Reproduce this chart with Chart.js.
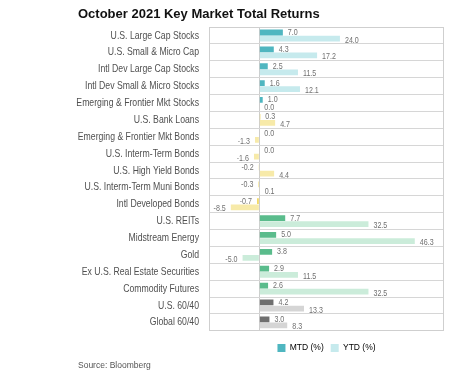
<!DOCTYPE html>
<html>
<head>
<meta charset="utf-8">
<script src="https://cdn.jsdelivr.net/npm/chart.js@4.4.1/dist/chart.umd.min.js"></script>
<style>
  html, body { margin: 0; padding: 0; background: #fff; }
  #wrap { width: 461px; height: 386px; }
</style>
</head>
<body>
<div id="wrap"><canvas id="chart"></canvas></div>
<script>
// data
const categories = [
  'U.S. Large Cap Stocks', 'U.S. Small & Micro Cap', 'Intl Dev Large Cap Stocks',
  'Intl Dev Small & Micro Stocks', 'Emerging & Frontier Mkt Stocks', 'U.S. Bank Loans',
  'Emerging & Frontier Mkt Bonds', 'U.S. Interm-Term Bonds', 'U.S. High Yield Bonds',
  'U.S. Interm-Term Muni Bonds', 'Intl Developed Bonds', 'U.S. REITs', 'Midstream Energy',
  'Gold', 'Ex U.S. Real Estate Securities', 'Commodity Futures', 'U.S. 60/40', 'Global 60/40'
];
const mtd = [7.0, 4.3, 2.5, 1.6, 1.0, 0.3, 0.0, 0.0, -0.2, -0.3, -0.7, 7.7, 5.0, 3.8, 2.9, 2.6, 4.2, 3.0];
const ytd = [24.0, 17.2, 11.5, 12.1, 0.0, 4.7, -1.3, -1.6, 4.4, 0.1, -8.5, 32.5, 46.3, -5.0, 11.5, 32.5, 13.3, 8.3];
// 0 = equities, 1 = fixed income, 2 = real assets, 3 = balanced
const assetClass = [0, 0, 0, 0, 0, 1, 1, 1, 1, 1, 1, 2, 2, 2, 2, 2, 3, 3];
const seriesNames = ['MTD (%)', 'YTD (%)'];

const MTD_COLORS = ['#4fb6c0', '#f2d968', '#5abc8c', '#6f6f6f'];
const YTD_COLORS = ['#c6eaed', '#f7eaa9', '#cbecda', '#d5d5d5'];
const SANS = '"Liberation Sans", Arial, sans-serif';
const SQUEEZE = 0.79; // no narrow font installed, so squeeze the regular one

function narrowText(ctx, text, x, y, align) {
  ctx.save();
  ctx.translate(x, y);
  ctx.scale(SQUEEZE, 1);
  ctx.textAlign = align;
  ctx.fillText(text, 0, 0);
  ctx.restore();
}

// box round the plot area
const chartAreaBorder = {
  id: 'chartAreaBorder',
  afterDraw(chart) {
    const {ctx, chartArea} = chart;
    ctx.save();
    ctx.strokeStyle = '#cfcfcf';
    ctx.lineWidth = 1;
    ctx.strokeRect(Math.round(chartArea.left) + 0.5, Math.round(chartArea.top) + 0.5,
      Math.round(chartArea.right - chartArea.left) - 1, Math.round(chartArea.bottom - chartArea.top) - 1);
    ctx.restore();
  }
};

// category names, placed by the y scale
const narrowCategoryLabels = {
  id: 'narrowCategoryLabels',
  afterDraw(chart) {
    const {ctx, chartArea} = chart;
    const yScale = chart.scales.y;
    ctx.save();
    ctx.font = '11px ' + SANS;
    ctx.fillStyle = '#505050';
    ctx.textBaseline = 'middle';
    yScale.ticks.forEach((t, i) => {
      narrowText(ctx, yScale.getLabelForValue(t.value), chartArea.left - 10, yScale.getPixelForTick(i), 'right');
    });
    ctx.restore();
  }
};

// value labels next to the bar ends
const barValues = {
  id: 'barValues',
  afterDatasetsDraw(chart) {
    const {ctx} = chart;
    ctx.save();
    ctx.font = '9px ' + SANS;
    ctx.fillStyle = '#707070';
    ctx.textBaseline = 'middle';
    chart.data.datasets.forEach((ds, di) => {
      const meta = chart.getDatasetMeta(di);
      meta.data.forEach((bar, i) => {
        const v = ds.data[i];
        const dy = di === 0 ? 0 : 1.5;
        if (v < 0) narrowText(ctx, v.toFixed(1), bar.x - 5, bar.y + dy, 'right');
        else narrowText(ctx, v.toFixed(1), bar.x + 5, bar.y + dy, 'left');
      });
    });
    ctx.restore();
  }
};

new Chart(document.getElementById('chart'), {
  type: 'bar',
  data: {
    labels: categories,
    datasets: [
      {
        label: seriesNames[0],
        data: mtd,
        backgroundColor: assetClass.map(g => MTD_COLORS[g]),
        categoryPercentage: 0.72,
        barPercentage: 0.95
      },
      {
        label: seriesNames[1],
        data: ytd,
        backgroundColor: assetClass.map(g => YTD_COLORS[g]),
        categoryPercentage: 0.72,
        barPercentage: 0.95
      }
    ]
  },
  options: {
    indexAxis: 'y',
    responsive: true,
    maintainAspectRatio: false,
    animation: false,
    layout: { padding: { left: 78, right: 17, top: 0, bottom: 15 } },
    plugins: {
      title: {
        display: true,
        text: 'October 2021 Key Market Total Returns',
        align: 'start',
        color: '#111',
        font: { family: SANS, size: 13, weight: 'bold' },
        padding: { top: 7, bottom: 4.5 }
      },
      subtitle: {
        display: true,
        position: 'bottom',
        align: 'start',
        text: 'Source: Bloomberg',
        color: '#555',
        font: { family: SANS, size: 8.5 },
        padding: { top: 2, bottom: 0 }
      },
      legend: {
        position: 'bottom',
        fullSize: false,
        maxHeight: 22,
        labels: {
          boxWidth: 8,
          boxHeight: 8,
          padding: 7,
          color: '#555',
          font: { family: SANS, size: 8.5 },
          generateLabels: () => seriesNames.map((name, i) => ({
            text: name,
            fillStyle: i === 0 ? MTD_COLORS[0] : YTD_COLORS[0],
            strokeStyle: 'transparent',
            lineWidth: 0,
            datasetIndex: i
          }))
        }
      },
      tooltip: { enabled: false }
    },
    scales: {
      x: {
        min: -15,
        max: 55,
        afterFit: s => { s.height = 6; },
        ticks: { display: false },
        border: { display: false },
        grid: {
          drawTicks: false,
          color: c => c.tick && c.tick.value === 0 ? '#cccccc' : 'transparent'
        }
      },
      y: {
        afterFit: s => { s.width = 131; },
        ticks: { display: false },
        border: { display: false },
        grid: { drawTicks: false, color: '#d6d6d6', offset: true }
      }
    }
  },
  plugins: [chartAreaBorder, narrowCategoryLabels, barValues]
});
</script>
</body>
</html>
